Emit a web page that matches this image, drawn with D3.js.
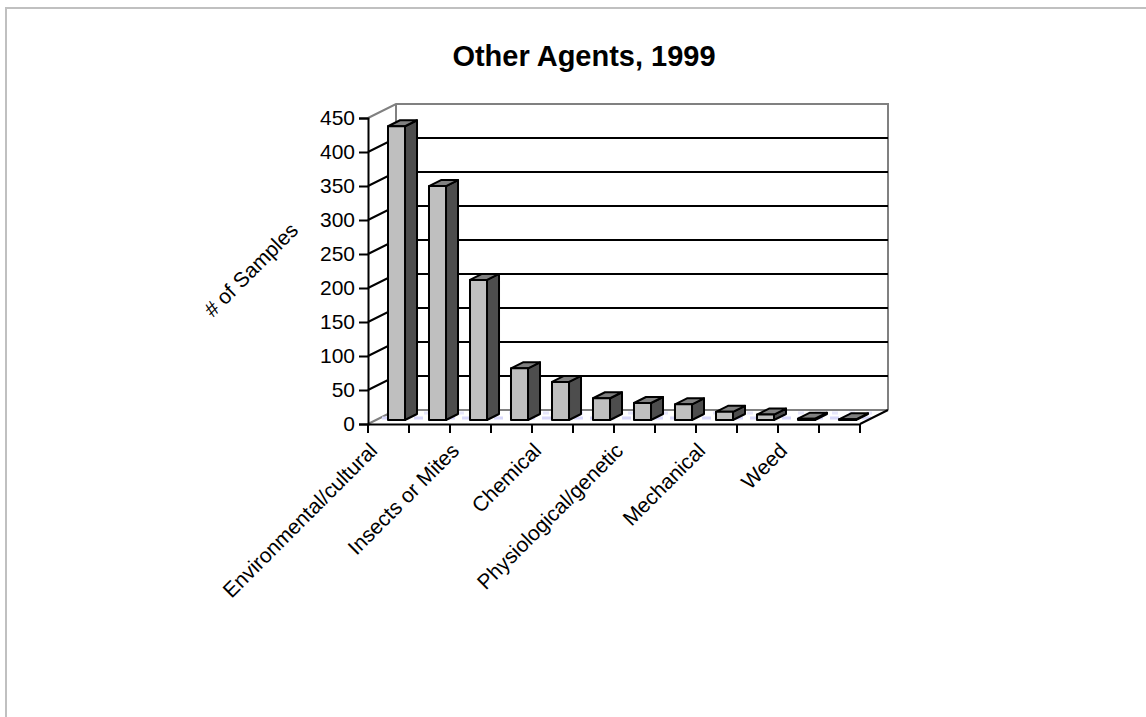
<!DOCTYPE html>
<html>
<head>
<meta charset="utf-8">
<script src="https://cdn.jsdelivr.net/npm/d3@7"></script>
<style>
  html, body { margin: 0; padding: 0; background: #fff; }
  text { font-family: "Liberation Sans", Arial, sans-serif; fill: #000; }
</style>
</head>
<body>
<div id="chart"></div>
<script>
'use strict';

// only every second category label is shown in the chart
var categories = ['Environmental/cultural', '', 'Insects or Mites', '', 'Chemical', '',
  'Physiological/genetic', '', 'Mechanical', '', 'Weed', ''];
var samples = [432, 344, 206, 76, 56, 32, 25, 23, 12, 8, 2, 1];
var yTicks = [0, 50, 100, 150, 200, 250, 300, 350, 400, 450];

var width = 1146, height = 717;
var plotLeft = 368, plotRight = 860, plotBottom = 424, plotTop = 118;
var depthX = 28, depthY = -14;   // wall offset
var barDepthX = 12, barDepthY = -6;
var barBase = 420;
var labelSize = 21;

var indexes = categories.map(function (d, i) { return i; });
var x = d3.scaleBand().domain(indexes).range([plotLeft, plotRight]);
var y = d3.scaleLinear().domain([0, 450]).range([plotBottom, plotTop]);
var barX = d3.scaleBand().domain(indexes).range([388, 856]).paddingInner(0.585).paddingOuter(0);
var barY = d3.scaleLinear().domain([0, 450]).range([barBase, barBase - (plotBottom - plotTop)]);

var svg = d3.select('#chart').append('svg')
  .attr('width', width)
  .attr('height', height)
  .style('display', 'block');

// outer frame, open on the right and bottom side of the picture
svg.append('path')
  .attr('d', 'M6,' + height + 'V8H' + width)
  .attr('fill', 'none')
  .attr('stroke', '#c0c0c0')
  .attr('stroke-width', 2);

svg.append('text')
  .attr('x', 584).attr('y', 66)
  .attr('text-anchor', 'middle')
  .attr('font-size', 29)
  .attr('font-weight', 'bold')
  .text('Other Agents, 1999');

// back wall and floor
var walls = svg.append('g').attr('fill', 'none').attr('stroke', '#808080').attr('stroke-width', 2);
walls.append('path').attr('d', 'M' + plotLeft + ',' + plotTop + 'L' + (plotLeft + depthX) + ',' + (plotTop + depthY) +
  'H' + (plotRight + depthX) + 'V' + (plotBottom + depthY));
walls.append('path').attr('d', 'M' + (plotLeft + depthX) + ',' + (plotTop + depthY) + 'V' + (plotBottom + depthY) +
  'H' + (plotRight + depthX));
walls.append('path').attr('d', 'M' + plotLeft + ',' + plotBottom + 'L' + (plotLeft + depthX) + ',' + (plotBottom + depthY));

// faint speckle on the floor
svg.append('path')
  .attr('d', 'M' + (plotLeft + 14) + ',' + (plotBottom - 6) + 'H' + (plotRight + 16))
  .attr('stroke', '#d8d8fa')
  .attr('stroke-width', 3)
  .attr('stroke-dasharray', '9 7');
svg.append('path')
  .attr('d', 'M' + (plotLeft + 22) + ',' + (plotBottom - 11) + 'H' + (plotRight + 22))
  .attr('stroke', '#e6e6fc')
  .attr('stroke-width', 3)
  .attr('stroke-dasharray', '6 11');

// gridlines running up the left wall then along the back
svg.append('g').selectAll('path')
  .data(yTicks.slice(1, -1))
  .join('path')
  .attr('fill', 'none')
  .attr('stroke', '#000')
  .attr('stroke-width', 2)
  .attr('d', function (d) {
    return 'M' + plotLeft + ',' + y(d) + 'L' + (plotLeft + depthX) + ',' + (y(d) + depthY) + 'H' + (plotRight + depthX);
  });

// front floor edge on the right
svg.append('path')
  .attr('d', 'M' + plotRight + ',' + plotBottom + 'L' + (plotRight + depthX) + ',' + (plotBottom + depthY))
  .attr('fill', 'none').attr('stroke', '#000').attr('stroke-width', 2);

// bars: front, side, top
var bars = svg.append('g').selectAll('g').data(samples).join('g')
  .attr('stroke', '#000')
  .attr('stroke-width', 2)
  .attr('stroke-linejoin', 'round');

bars.append('path')
  .attr('fill', '#4d4d4d')
  .attr('d', function (d, i) {
    var x1 = barX(i) + barX.bandwidth();
    return 'M' + x1 + ',' + barBase + 'l' + barDepthX + ',' + barDepthY + 'V' + (barY(d) + barDepthY) +
      'l' + (-barDepthX) + ',' + (-barDepthY) + 'Z';
  });
bars.append('path')
  .attr('fill', '#808080')
  .attr('d', function (d, i) {
    return 'M' + barX(i) + ',' + barY(d) + 'l' + barDepthX + ',' + barDepthY + 'h' + barX.bandwidth() +
      'l' + (-barDepthX) + ',' + (-barDepthY) + 'Z';
  });
bars.append('rect')
  .attr('fill', '#bfbfbf')
  .attr('x', function (d, i) { return barX(i); })
  .attr('y', function (d) { return barY(d); })
  .attr('width', barX.bandwidth())
  .attr('height', function (d) { return barBase - barY(d); });

// axes
var yAxis = d3.axisLeft(y).tickValues(yTicks).tickSize(9).tickPadding(4);
var yG = svg.append('g').attr('transform', 'translate(' + plotLeft + ',0)').call(yAxis);
yG.selectAll('line, path').attr('stroke', '#000').attr('stroke-width', 2);
yG.selectAll('text').attr('font-size', labelSize).attr('font-family', '"Liberation Sans", Arial, sans-serif');

var xAxis = d3.axisBottom(x).tickSize(0).tickFormat('');
var xG = svg.append('g').attr('transform', 'translate(0,' + plotBottom + ')').call(xAxis);
xG.select('.domain').attr('stroke', '#000').attr('stroke-width', 2);
xG.selectAll('.tick').remove();

// ticks sit on the category boundaries
var boundaries = indexes.concat([indexes.length]);
svg.append('g').selectAll('line').data(boundaries).join('line')
  .attr('x1', function (d) { return plotLeft + d * x.step(); })
  .attr('x2', function (d) { return plotLeft + d * x.step(); })
  .attr('y1', plotBottom)
  .attr('y2', plotBottom + 9)
  .attr('stroke', '#000')
  .attr('stroke-width', 2);

svg.append('g').selectAll('text').data(categories).join('text')
  .attr('font-size', labelSize)
  .attr('text-anchor', 'end')
  .attr('transform', function (d, i) {
    return 'translate(' + (x(i) + x.bandwidth() / 2 - 10) + ',' + (plotBottom + 28) + ') rotate(-45)';
  })
  .text(function (d) { return d; });

svg.append('text')
  .attr('font-size', labelSize)
  .attr('text-anchor', 'middle')
  .attr('transform', 'translate(256,275) rotate(-45)')
  .text('# of Samples');
</script>
</body>
</html>
